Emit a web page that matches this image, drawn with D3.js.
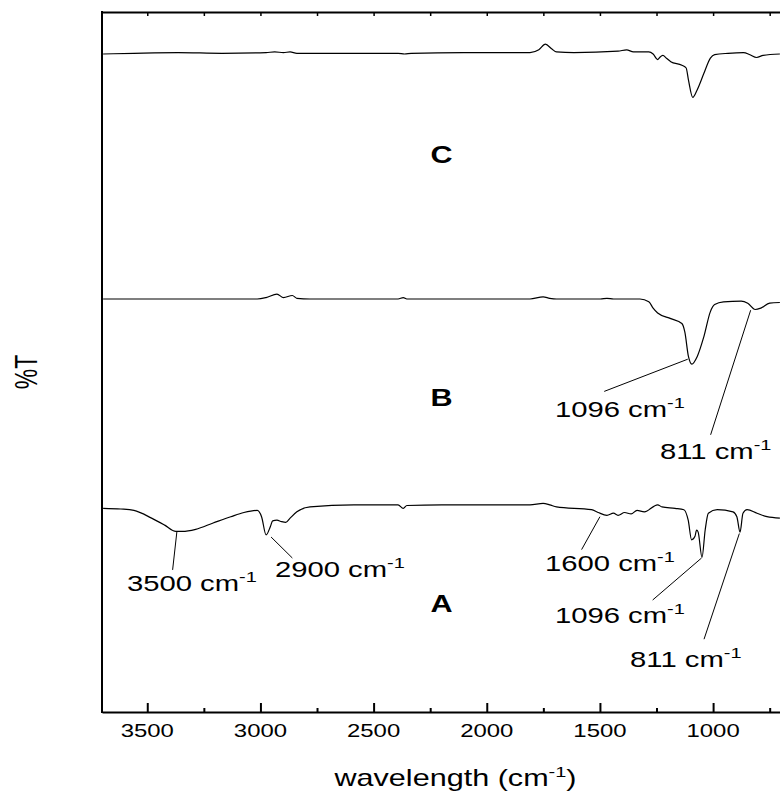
<!DOCTYPE html>
<html>
<head>
<meta charset="utf-8">
<script src="https://cdn.jsdelivr.net/npm/d3@7"></script>
<style>
  body { margin: 0; background: #fff; }
  svg { display: block; font-family: "Liberation Sans", Arial, sans-serif; }
</style>
</head>
<body>
<svg id="ftir" width="780" height="794"></svg>
<script>
// ftir spectra (wavenumber in cm-1, %T in arbitrary offset units)
const waveC = [3695,3559,3364,3170,2975,2937,2898,2869,2839,2587,2392,2363,2334,2101,1809,1770,1741,1712,1692,1615,1420,1382,1352,1284,1265,1245,1236,1222,1206,1187,1138,1119,1109,1090,1070,1041,1012,993,934,866,837,808,779,705];
const transC = [94.0,94.1,94.2,94.1,94.2,94.3,94.2,94.3,94.1,94.1,94.1,94.0,94.1,94.2,94.2,94.6,95.4,94.7,94.3,94.2,94.4,94.6,94.3,94.3,94.0,93.2,93.5,93.8,93.4,92.9,92.4,92.0,90.3,87.8,88.9,91.2,93.4,93.9,94.1,94.2,93.9,93.5,93.8,94.0];

const waveB = [3695,3461,3306,3014,2975,2927,2898,2859,2839,2781,2392,2369,2353,1809,1751,1722,1692,1498,1469,1440,1323,1284,1265,1245,1187,1138,1125,1109,1094,1070,1041,1012,993,954,876,847,814,789,750,705];
const transB = [59.0,59.0,59.0,59.0,59.2,59.7,59.2,59.5,59.1,59.0,59.0,59.2,59.0,59.0,59.3,59.1,59.0,59.0,59.1,59.0,59.0,58.6,57.7,57.0,56.2,55.5,54.3,50.8,49.7,50.8,53.6,57.2,58.2,58.6,58.7,58.4,57.5,57.7,58.4,58.5];

const waveA = [3695,3617,3559,3481,3423,3374,3345,3286,3209,3131,3073,3014,2995,2975,2956,2946,2927,2907,2888,2869,2839,2781,2587,2392,2369,2353,2198,1809,1751,1722,1692,1537,1508,1469,1440,1420,1391,1362,1336,1304,1245,1226,1168,1129,1110,1095,1080,1073,1066,1049,1035,1021,982,912,895,881,868,850,806,762,705];
const transA = [29.1,29.0,28.8,27.7,26.7,25.8,25.8,26.1,27.0,27.9,28.5,28.8,27.9,25.3,26.5,27.3,27.4,27.2,27.1,27.7,28.6,29.3,29.6,29.6,29.1,29.5,29.6,29.6,29.8,29.6,29.3,28.9,28.5,28.1,28.4,28.1,28.5,28.3,28.8,28.6,29.6,29.3,29.1,28.9,27.4,24.6,25.1,26.0,25.7,22.1,26.0,28.4,28.9,28.6,27.9,25.7,28.4,28.9,28.4,27.9,27.7];

// sample letters
const sampleNames = ['C', 'B', 'A'];
const sampleLabelWave = [2200, 2200, 2200];
const sampleLabelT = [78.4, 43.7, 14.3];

// band annotations: peak point, end of the leader line, label corner
const bandText = ['1096', '811', '3500', '2900', '1600', '1096', '811'];
const bandPeakWave = [1112, 834, 3369, 2953, 1500, 1051, 884];
const bandPeakT = [50.4, 57.4, 25.8, 25.0, 27.9, 22.0, 25.5];
const bandEndWave = [1481, 1011, 3388, 2859, 1581, 1267, 1040];
const bandEndT = [45.8, 39.6, 20.3, 22.0, 23.2, 16.0, 10.4];
const bandLabelWave = [1699, 1235, 3590, 2936, 1743, 1699, 1367];
const bandLabelT = [42.1, 36.1, 17.3, 19.3, 20.1, 12.7, 6.4];

const majorTicks = [3500, 3000, 2500, 2000, 1500, 1000];
const minorTicks = [3250, 2750, 2250, 1750, 1250, 750];

const svg = d3.select('#ftir');
const plot = { left: 102, top: 12, right: 781, bottom: 712 };
const stretch = 1.33; // the source picture is wider than its fonts

const x = d3.scaleLinear().domain([3700, 700]).range([plot.left, plot.right]);
const y = d3.scaleLinear().domain([0, 100]).range([plot.bottom, plot.top]);

// text helper, fonts squeezed out sideways like the original
function label(parent, px, py, size) {
    return parent.append('text')
        .attr('transform', `translate(${px},${py}) scale(${stretch},1)`)
        .attr('font-size', size)
        .attr('fill', '#000');
}

// bottom axis, ticks inward
svg.append('g')
    .attr('transform', `translate(0,${plot.bottom})`)
    .call(d3.axisBottom(x).tickValues(majorTicks).tickSizeInner(-9).tickSizeOuter(0).tickFormat(''))
    .call(g => g.select('.domain').attr('stroke-width', 2))
    .call(g => g.selectAll('.tick line').attr('stroke-width', 2));
svg.append('g')
    .attr('transform', `translate(0,${plot.bottom})`)
    .call(d3.axisBottom(x).tickValues(minorTicks).tickSizeInner(-4).tickSizeOuter(0).tickFormat(''))
    .call(g => g.select('.domain').remove())
    .call(g => g.selectAll('.tick line').attr('stroke-width', 2));

// top border with small inward ticks
svg.append('g')
    .attr('transform', `translate(0,${plot.top})`)
    .call(d3.axisTop(x).tickValues(majorTicks.concat(minorTicks)).tickSizeInner(-4).tickSizeOuter(0).tickFormat(''))
    .call(g => g.select('.domain').attr('stroke-width', 2))
    .call(g => g.selectAll('.tick line').attr('stroke-width', 1.5));

// left axis, no ticks
svg.append('line')
    .attr('x1', plot.left).attr('x2', plot.left)
    .attr('y1', plot.top - 1).attr('y2', plot.bottom + 1)
    .attr('stroke', '#000').attr('stroke-width', 2);

// tick labels
majorTicks.forEach(t => {
    label(svg, x(t), plot.bottom + 25, 18).attr('text-anchor', 'middle').text(t);
});

// axis titles
const xt = label(svg, (plot.left + plot.right) / 2 + 14, 786, 23).attr('text-anchor', 'middle');
xt.append('tspan').text('wavelength (cm');
xt.append('tspan').attr('font-size', 15).attr('dy', -9).text('-1');
xt.append('tspan').attr('dy', 9).text(')');

svg.append('text')
    .attr('transform', `translate(37,372) scale(${stretch},1) rotate(-90)`)
    .attr('font-size', 23)
    .attr('text-anchor', 'middle')
    .text('%T');

// spectra
const line = d3.line()
    .x(d => x(d[0]))
    .y(d => y(d[1]))
    .curve(d3.curveMonotoneX);

const spectra = [[waveC, transC], [waveB, transB], [waveA, transA]];
svg.append('clipPath').attr('id', 'plot-clip')
    .append('rect')
    .attr('x', plot.left).attr('y', plot.top)
    .attr('width', plot.right - plot.left).attr('height', plot.bottom - plot.top);

spectra.forEach(s => {
    const pts = s[0].map((w, i) => [w, s[1][i]]);
    svg.append('path')
        .datum(pts)
        .attr('clip-path', 'url(#plot-clip)')
        .attr('fill', 'none')
        .attr('stroke', '#000')
        .attr('stroke-width', 1.2)
        .attr('d', line);
});

// sample letters
sampleNames.forEach((n, i) => {
    label(svg, x(sampleLabelWave[i]), y(sampleLabelT[i]), 23)
        .attr('text-anchor', 'middle')
        .attr('font-weight', 'bold')
        .text(n);
});

// band annotations
bandText.forEach((t, i) => {
    svg.append('line')
        .attr('x1', x(bandPeakWave[i])).attr('y1', y(bandPeakT[i]))
        .attr('x2', x(bandEndWave[i])).attr('y2', y(bandEndT[i]))
        .attr('stroke', '#000').attr('stroke-width', 1);

    const txt = label(svg, x(bandLabelWave[i]), y(bandLabelT[i]), 22);
    txt.append('tspan').text(t + ' cm');
    txt.append('tspan').attr('font-size', 15).attr('dy', -9).text('-1');
});
</script>
</body>
</html>
